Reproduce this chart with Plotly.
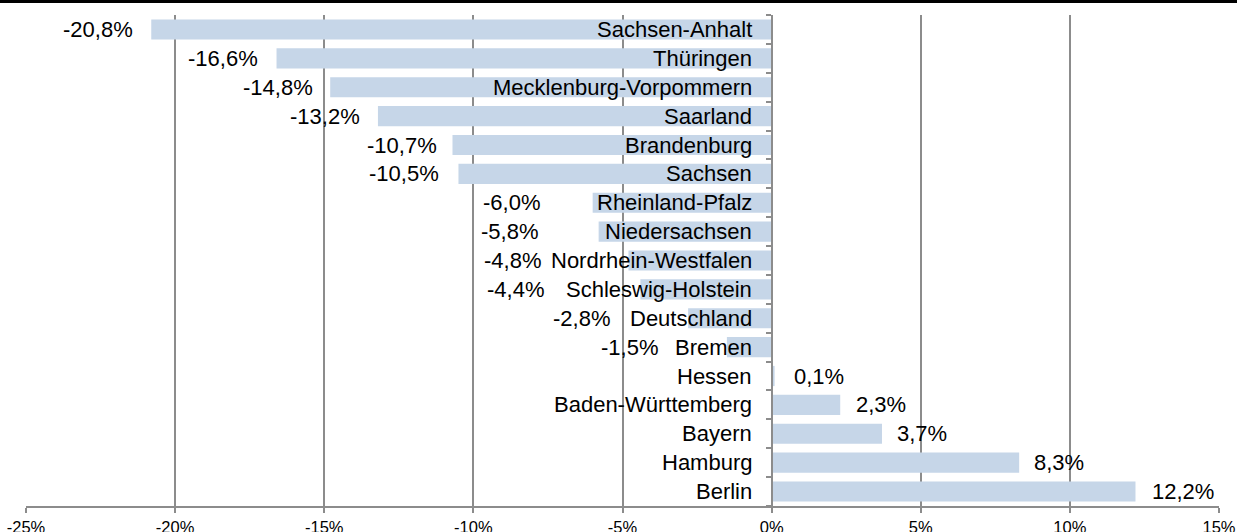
import plotly.graph_objects as go

categories = ["Sachsen-Anhalt", "Thüringen", "Mecklenburg-Vorpommern", "Saarland",
              "Brandenburg", "Sachsen", "Rheinland-Pfalz", "Niedersachsen",
              "Nordrhein-Westfalen", "Schleswig-Holstein", "Deutschland", "Bremen",
              "Hessen", "Baden-Württemberg", "Bayern", "Hamburg", "Berlin"]
values = [-20.8, -16.6, -14.8, -13.2, -10.7, -10.5, -6.0, -5.8, -4.8, -4.4,
          -2.8, -1.5, 0.1, 2.3, 3.7, 8.3, 12.2]
tick_vals = [-25, -20, -15, -10, -5, 0, 5, 10, 15]
tick_text = ["-25%", "-20%", "-15%", "-10%", "-5%", "0%", "5%", "10%", "15%"]

# label placement (style): pixel gap between bar end and its value label
value_label_gap_px = [17, 18, 16, 17, 15, 18, 52, 60, 86, 95, 77, 68,
                      18, 15, 14, 14, 16]

def fmt(v):
    return f"{v:.1f}".replace(".", ",") + "%"

FONT = "Liberation Sans, Arial, sans-serif"
GRID = "#8c8c8c"

fig = go.Figure(go.Bar(
    x=values, y=categories, orientation="h",
    marker=dict(color="#c6d6e8", line=dict(width=0)),
    width=0.7, hoverinfo="skip",
))

annotations = []
for c, v, g in zip(categories, values, value_label_gap_px):
    annotations.append(dict(x=0, y=c, xref="x", yref="y", text=c, showarrow=False,
                            xanchor="right", xshift=-18,
                            font=dict(family=FONT, size=22, color="black")))
    annotations.append(dict(x=v, y=c, xref="x", yref="y", text=fmt(v), showarrow=False,
                            xanchor="right" if v < 0 else "left",
                            xshift=-g + 1 if v < 0 else g - 1,
                            font=dict(family=FONT, size=22, color="black")))

fig.update_layout(
    width=1237, height=532,
    margin=dict(l=26, r=18, t=15, b=26, autoexpand=False),
    paper_bgcolor="white", plot_bgcolor="white",
    showlegend=False,
    annotations=annotations,
    xaxis=dict(range=[-25, 15], tickvals=tick_vals, ticktext=tick_text,
               showgrid=True, gridcolor=GRID, gridwidth=1.5,
               zeroline=False, showline=True, linecolor=GRID, linewidth=2,
               ticks="outside", ticklen=5, tickcolor=GRID, tickwidth=1.5,
               tickfont=dict(family=FONT, size=16.5, color="black"),
               ticklabelstandoff=0,
               automargin=False, fixedrange=True),
    yaxis=dict(categoryorder="array", categoryarray=categories[::-1],
               showticklabels=False, showgrid=False, zeroline=False,
               showline=True, linecolor=GRID, linewidth=1.5,
               anchor="free", position=25 / 40,
               ticks="outside", tickson="boundaries", ticklen=5,
               tickcolor=GRID, tickwidth=1.5, automargin=False, fixedrange=True),
    shapes=[dict(type="line", xref="paper", yref="paper",
                 x0=-0.05, x1=1.05, y0=1 + 13.5 / 491, y1=1 + 13.5 / 491,
                 line=dict(color="black", width=3))],
)

fig.write_html("out.html", config={"displayModeBar": False},
               post_script="document.body.style.margin='0';document.body.style.overflow='hidden';")
